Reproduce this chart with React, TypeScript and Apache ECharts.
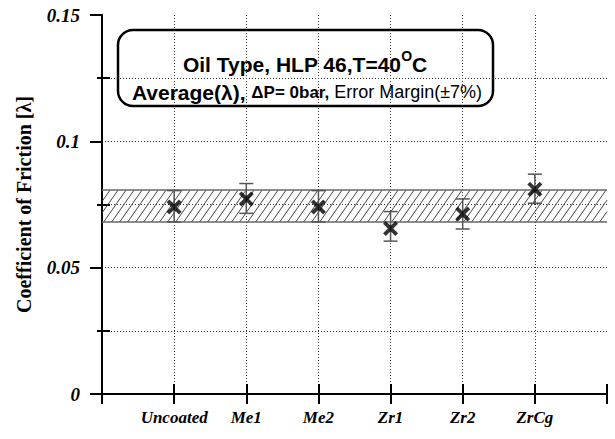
import React, { useEffect, useRef } from "react";
import * as echarts from "echarts";

// Coating samples along the x axis (placed at positions 1..6)
const categories = ["Uncoated", "Me1", "Me2", "Zr1", "Zr2", "ZrCg"];
// Mean coefficient of friction per sample
const means = [0.074, 0.0772, 0.074, 0.0655, 0.0712, 0.081];
// Error bar bounds per sample
const lows = [0.0681, 0.0715, 0.0681, 0.0605, 0.0653, 0.0755];
const highs = [0.0805, 0.0833, 0.0805, 0.0722, 0.0772, 0.087];
// Shaded ±7% margin band around the overall average
const bandLow = 0.0681;
const bandHigh = 0.0807;
// Y axis range and ticks
const yMin = 0;
const yMax = 0.15;
const yStep = 0.05;
const xMin = 0;
const xMax = 7;

const SERIF = '"Liberation Serif", "Times New Roman", serif';
const SANS = '"Liberation Sans", Arial, sans-serif';
const GRID_DOT = { color: "#333", width: 1, type: [1, 2] as number[] };

export default function App() {
  const ref = useRef<HTMLDivElement>(null);

  useEffect(() => {
    if (!ref.current) return;
    const chart = echarts.init(ref.current, undefined, { renderer: "svg" });

    const xLabel = (v: number) =>
      v >= 1 && v <= categories.length ? categories[v - 1] : "";

    const option: any = {
      animation: false,
      backgroundColor: "#fff",
      grid: { left: 102, right: 8, top: 15, bottom: 45, containLabel: false },
      xAxis: [
        {
          type: "value",
          position: "bottom",
          min: xMin,
          max: xMax,
          interval: 1,
          axisLine: { show: true, lineStyle: { color: "#000", width: 2 } },
          axisTick: { show: true, inside: false, length: 10, lineStyle: { color: "#000", width: 2 } },
          axisLabel: {
            formatter: xLabel,
            margin: 15,
            fontFamily: SERIF,
            fontWeight: "bold",
            fontStyle: "italic",
            fontSize: 17,
            color: "#000",
            showMinLabel: false,
            showMaxLabel: false,
          },
          splitLine: { show: true, showMinLine: false, showMaxLine: false, lineStyle: GRID_DOT },
        },
        {
          type: "value",
          position: "bottom",
          min: xMin,
          max: xMax,
          interval: 1,
          axisLine: { show: false },
          axisTick: { show: true, inside: true, length: 10, lineStyle: { color: "#000", width: 2 } },
          axisLabel: { show: false },
          splitLine: { show: false },
        },
        {
          type: "value",
          position: "top",
          min: xMin,
          max: xMax,
          interval: 1,
          axisLine: { show: true, lineStyle: { color: "#000", width: 2 } },
          axisTick: { show: true, inside: true, length: 10, lineStyle: { color: "#000", width: 2 } },
          axisLabel: { show: false },
          splitLine: { show: false },
        },
      ],
      yAxis: [
        {
          type: "value",
          position: "left",
          min: yMin,
          max: yMax,
          interval: yStep,
          axisLine: { show: true, lineStyle: { color: "#000", width: 2 } },
          axisTick: { show: true, inside: false, length: 12, lineStyle: { color: "#000", width: 2 } },
          minorTick: { show: true, splitNumber: 2, length: 5, lineStyle: { color: "#000", width: 2 } },
          axisLabel: {
            margin: 22,
            fontFamily: SERIF,
            fontWeight: "bold",
            fontStyle: "italic",
            fontSize: 19,
            color: "#000",
            formatter: (v: number) => String(Number(v.toFixed(3))),
          },
          splitLine: { show: true, showMinLine: false, showMaxLine: false, lineStyle: GRID_DOT },
          minorSplitLine: { show: true, lineStyle: GRID_DOT },
          name: "Coefficient of Friction [λ]",
          nameLocation: "middle",
          nameGap: 68,
          nameTextStyle: { fontFamily: SERIF, fontWeight: "bold", fontSize: 20, color: "#000" },
        },
        {
          type: "value",
          position: "left",
          min: yMin,
          max: yMax,
          interval: yStep,
          axisLine: { show: false },
          axisTick: { show: false, inside: true },
          minorTick: { show: true, splitNumber: 2, length: 8, lineStyle: { color: "#000", width: 2 } },
          axisLabel: { show: false },
          splitLine: { show: false },
        },
        {
          type: "value",
          position: "right",
          min: yMin,
          max: yMax,
          interval: yStep,
          axisLine: { show: true, lineStyle: { color: "#000", width: 2 } },
          axisTick: { show: true, inside: true, length: 10, lineStyle: { color: "#000", width: 2 } },
          minorTick: { show: true, splitNumber: 2, length: 5, lineStyle: { color: "#000", width: 2 } },
          axisLabel: { show: false },
          splitLine: { show: false },
        },
      ],
      series: [
        {
          // hatched margin band
          type: "custom",
          xAxisIndex: 0,
          yAxisIndex: 0,
          z: 1,
          silent: true,
          encode: { x: 0, y: [1, 2] },
          data: [[xMin, bandLow, bandHigh]],
          renderItem: (_params: any, api: any) => {
            const lo = api.value(1);
            const hi = api.value(2);
            const tl = api.coord([xMin, hi]);
            const br = api.coord([xMax, lo]);
            const x0 = tl[0];
            const x1 = br[0];
            const y0 = tl[1];
            const y1 = br[1];
            const h = y1 - y0;
            const dx = h * 0.7;
            const step = 8;
            const children: any[] = [];
            for (let s = x0 - dx; s < x1; s += step) {
              let ax = s;
              let ay = y1;
              let bx = s + dx;
              let by = y0;
              if (ax < x0) {
                const t = (x0 - ax) / dx;
                ax = x0;
                ay = y1 - t * h;
              }
              if (bx > x1) {
                const t = (bx - x1) / dx;
                bx = x1;
                by = y0 + t * h;
              }
              if (bx <= ax) continue;
              children.push({
                type: "line",
                shape: { x1: ax, y1: ay, x2: bx, y2: by },
                style: { stroke: "#444", lineWidth: 1 },
              });
            }
            children.push({
              type: "line",
              shape: { x1: x0, y1: y0, x2: x1, y2: y0 },
              style: { stroke: "#666", lineWidth: 1.5 },
            });
            children.push({
              type: "line",
              shape: { x1: x0, y1: y1, x2: x1, y2: y1 },
              style: { stroke: "#666", lineWidth: 1.5 },
            });
            return { type: "group", children };
          },
        },
        {
          // error bars
          type: "custom",
          xAxisIndex: 0,
          yAxisIndex: 0,
          z: 2,
          silent: true,
          encode: { x: 0, y: [1, 2] },
          data: categories.map((_c, i) => [i + 1, lows[i], highs[i]]),
          renderItem: (_params: any, api: any) => {
            const x = api.value(0);
            const top = api.coord([x, api.value(2)]);
            const bot = api.coord([x, api.value(1)]);
            const half = 7;
            const st = { stroke: "#555", lineWidth: 1.5 };
            return {
              type: "group",
              children: [
                { type: "line", shape: { x1: top[0], y1: top[1], x2: bot[0], y2: bot[1] }, style: st },
                { type: "line", shape: { x1: top[0] - half, y1: top[1], x2: top[0] + half, y2: top[1] }, style: st },
                { type: "line", shape: { x1: bot[0] - half, y1: bot[1], x2: bot[0] + half, y2: bot[1] }, style: st },
              ],
            };
          },
        },
        {
          type: "scatter",
          xAxisIndex: 0,
          yAxisIndex: 0,
          z: 3,
          symbol:
            "path://M0,2.5 L2.5,0 L7,4.5 L11.5,0 L14,2.5 L9.5,7 L14,11.5 L11.5,14 L7,9.5 L2.5,14 L0,11.5 L4.5,7 Z",
          symbolSize: 15,
          itemStyle: { color: "#000" },
          data: categories.map((_c, i) => [i + 1, means[i]]),
        },
      ],
      graphic: [
        {
          type: "group",
          z: 100,
          children: [
            {
              type: "rect",
              shape: { x: 118, y: 30, width: 375, height: 76, r: 15 },
              style: { fill: "#fff", stroke: "#000", lineWidth: 2.5 },
            },
            {
              type: "text",
              x: 305,
              y: 62,
              style: {
                text: "{a|Oil Type, HLP 46,T=40}{s|O}{a|C}",
                align: "center",
                verticalAlign: "middle",
                rich: {
                  a: { fontFamily: SANS, fontWeight: "bold", fontSize: 21, fill: "#000", lineHeight: 26, verticalAlign: "bottom" },
                  s: { fontFamily: SANS, fontWeight: "bold", fontSize: 14, fill: "#000", lineHeight: 26, verticalAlign: "top" },
                },
              },
            },
            {
              type: "text",
              x: 307,
              y: 92,
              style: {
                text: "{a|Average(λ), }{b|ΔP= 0bar,}{c| Error Margin(±7%)}",
                align: "center",
                verticalAlign: "middle",
                rich: {
                  a: { fontFamily: SANS, fontWeight: "bold", fontSize: 21, fill: "#000" },
                  b: { fontFamily: SANS, fontWeight: "bold", fontSize: 17, fill: "#000" },
                  c: { fontFamily: SANS, fontWeight: "normal", fontSize: 18, fill: "#000" },
                },
              },
            },
          ],
        },
      ],
    };

    chart.setOption(option);
    return () => chart.dispose();
  }, []);

  return (
    <div
      ref={ref}
      style={{ position: "fixed", left: 0, top: 0, width: 615, height: 439, background: "#fff" }}
    />
  );
}
